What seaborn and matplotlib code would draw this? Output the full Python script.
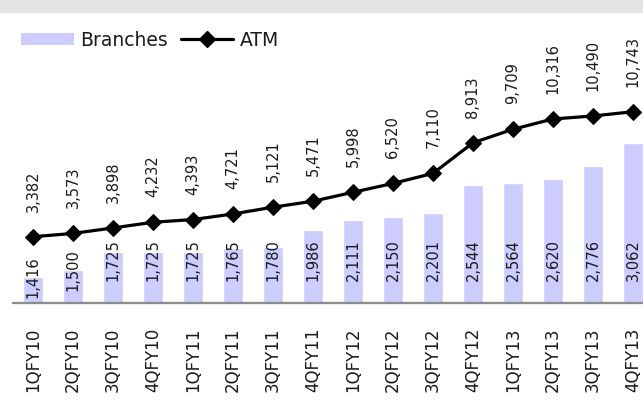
import matplotlib
matplotlib.use("Agg")
import matplotlib.pyplot as plt
from matplotlib.patches import Patch, Rectangle
from matplotlib.lines import Line2D
import numpy as np
import pandas as pd
import seaborn as sns

quarters = ["1QFY10", "2QFY10", "3QFY10", "4QFY10",
            "1QFY11", "2QFY11", "3QFY11", "4QFY11",
            "1QFY12", "2QFY12", "3QFY12", "4QFY12",
            "1QFY13", "2QFY13", "3QFY13", "4QFY13"]
branches = [1416, 1500, 1725, 1725, 1725, 1765, 1780, 1986,
            2111, 2150, 2201, 2544, 2564, 2620, 2776, 3062]
atm = [3382, 3573, 3898, 4232, 4393, 4721, 5121, 5471,
       5998, 6520, 7110, 8913, 9709, 10316, 10490, 10743]

sns.set_style("white")
plt.rcParams["font.family"] = ["DejaVu Sans"]

BAR_COLOR = "#ccccff"
TEXT_COLOR = "#1a1a1a"

W, H = 643, 400
fig = plt.figure(figsize=(W / 100, H / 100), dpi=100)

# light grey band along the top edge
fig.patches.append(Rectangle((0, 1 - 13 / H), 1, 13 / H, transform=fig.transFigure,
                             facecolor="#e4e4e4", edgecolor="none", zorder=0))

ax = fig.add_axes([13 / W, 1 - 303 / H, 640 / W, 283 / H])
ax.set_facecolor("none")

df = pd.DataFrame({"quarter": quarters, "branches": branches, "atm": atm})

sns.barplot(data=df, x="quarter", y="branches", color=BAR_COLOR, width=0.52,
            saturation=1, ax=ax, zorder=1)
ax.set_xlim(-0.5, 15.5)
ax.set_ylim(1095, 1095 + 283 / 0.0815)

ax2 = ax.twinx()
sns.lineplot(x=np.arange(len(quarters)), y=atm, ax=ax2, color="black",
             linewidth=2.3, marker="D", markersize=8, markeredgecolor="black",
             zorder=3)
ax2.set_ylim(-523, -523 + 283 / 0.01698)
ax2.set_xlim(-0.5, 15.5)

for a in (ax, ax2):
    for side in ("top", "right", "left"):
        a.spines[side].set_visible(False)
    a.set_yticks([])
    a.set_ylabel("")
    a.set_xlabel("")
ax2.spines["bottom"].set_visible(False)
ax.spines["bottom"].set_color("#8c8c8c")
ax.spines["bottom"].set_linewidth(1.6)

ax.set_xticks(range(len(quarters)))
ax.set_xticklabels(quarters, rotation=90, fontsize=12, color=TEXT_COLOR)
ax.tick_params(axis="x", length=0, pad=18)

# branch counts sit near the foot of each bar
label_level = 1623
for i, v in enumerate(branches):
    ax.text(i, min(v, label_level), f"{v:,}", rotation=90, ha="center", va="center",
            fontsize=10.5, color=TEXT_COLOR, zorder=4)

# ATM counts above each marker
for i, v in enumerate(atm):
    ax2.annotate(f"{v:,}", (i, v), xytext=(0, 18), textcoords="offset points",
                 rotation=90, rotation_mode="anchor", ha="left", va="center",
                 fontsize=10.5, color=TEXT_COLOR)

handles = [Patch(facecolor=BAR_COLOR, edgecolor="none"),
           Line2D([], [], color="black", linewidth=2.3, marker="D", markersize=8)]
fig.legend(handles, ["Branches", "ATM"], loc="center left",
           bbox_to_anchor=(21 / W, 1 - 40 / H), ncol=2, frameon=False,
           fontsize=13.5, handlelength=2.8, handleheight=0.65, handletextpad=0.35,
           columnspacing=0.7, borderpad=0, borderaxespad=0, labelcolor=TEXT_COLOR)

fig.savefig("out.png", dpi=100)
